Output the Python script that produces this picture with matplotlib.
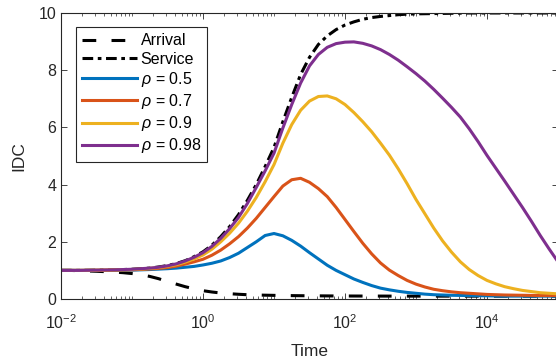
import matplotlib
matplotlib.use("Agg")
import matplotlib.pyplot as plt
import numpy as np
from matplotlib.ticker import FixedLocator, LogLocator, NullFormatter

plt.rcParams['font.family'] = ['Liberation Sans', 'DejaVu Sans']
plt.rcParams['mathtext.fontset'] = 'custom'
plt.rcParams['mathtext.rm'] = 'Liberation Sans'
plt.rcParams['mathtext.it'] = 'Liberation Sans:italic'

# log10(time), values every 1/8 decade
log_t = [-2, -1.875, -1.75, -1.625, -1.5, -1.375, -1.25, -1.125,
         -1, -0.875, -0.75, -0.625, -0.5, -0.375, -0.25, -0.125,
         0, 0.125, 0.25, 0.375, 0.5, 0.625, 0.75, 0.875,
         1, 1.125, 1.25, 1.375, 1.5, 1.625, 1.75, 1.875,
         2, 2.125, 2.25, 2.375, 2.5, 2.625, 2.75, 2.875,
         3, 3.125, 3.25, 3.375, 3.5, 3.625, 3.75, 3.875,
         4, 4.125, 4.25, 4.375, 4.5, 4.625, 4.75, 4.875,
         5]

arrival = [1.0, 1.0, 0.99, 0.98, 0.97, 0.955, 0.94, 0.92,
           0.89, 0.85, 0.79, 0.71, 0.61, 0.52, 0.43, 0.355,
           0.29, 0.245, 0.21, 0.185, 0.165, 0.15, 0.14, 0.133,
           0.127, 0.122, 0.118, 0.115, 0.112, 0.11, 0.108, 0.106,
           0.105, 0.104, 0.103, 0.102, 0.102, 0.101, 0.101, 0.1,
           0.1, 0.1, 0.1, 0.1, 0.1, 0.1, 0.1, 0.1,
           0.1, 0.1, 0.1, 0.1, 0.1, 0.1, 0.1, 0.1,
           0.1]
service = [1.0, 1.0, 1.0, 1.005, 1.01, 1.015, 1.02, 1.03,
           1.04, 1.06, 1.08, 1.12, 1.17, 1.24, 1.34, 1.48,
           1.65, 1.88, 2.18, 2.53, 2.95, 3.45, 4.0, 4.63,
           5.3, 6.2, 7.05, 7.85, 8.45, 8.9, 9.2, 9.42,
           9.58, 9.69, 9.78, 9.84, 9.88, 9.91, 9.94, 9.96,
           9.97, 9.975, 9.98, 9.985, 9.99, 9.995, 10.0, 10.0,
           10.0, 10.0, 10.0, 10.0, 10.0, 10.0, 10.0, 10.0,
           10.0]
rho_05 = [1.0, 1.0, 1.0, 1.0, 1.0, 1.0, 1.0, 1.005,
          1.01, 1.02, 1.03, 1.045, 1.06, 1.08, 1.11, 1.14,
          1.19, 1.25, 1.33, 1.45, 1.6, 1.8, 2.0, 2.22,
          2.29, 2.21, 2.05, 1.85, 1.62, 1.4, 1.18, 1.0,
          0.85, 0.7, 0.58, 0.47, 0.38, 0.32, 0.27, 0.23,
          0.2, 0.17, 0.15, 0.14, 0.13, 0.125, 0.12, 0.115,
          0.11, 0.105, 0.1, 0.1, 0.1, 0.1, 0.1, 0.1,
          0.1]
rho_07 = [1.0, 1.0, 1.0, 1.0, 1.0, 1.005, 1.01, 1.015,
          1.02, 1.035, 1.05, 1.07, 1.1, 1.15, 1.22, 1.3,
          1.39, 1.53, 1.71, 1.93, 2.18, 2.48, 2.82, 3.2,
          3.58, 3.95, 4.17, 4.22, 4.08, 3.86, 3.58, 3.2,
          2.78, 2.36, 1.95, 1.58, 1.26, 1.01, 0.82, 0.65,
          0.52, 0.42, 0.34, 0.29, 0.25, 0.22, 0.2, 0.18,
          0.16, 0.15, 0.14, 0.135, 0.13, 0.125, 0.12, 0.12,
          0.12]
rho_09 = [1.0, 1.0, 1.0, 1.005, 1.01, 1.015, 1.02, 1.025,
          1.03, 1.05, 1.07, 1.1, 1.14, 1.2, 1.29, 1.4,
          1.54, 1.74, 2.0, 2.3, 2.65, 3.07, 3.55, 4.1,
          4.7, 5.45, 6.1, 6.6, 6.92, 7.08, 7.1, 7.0,
          6.8, 6.52, 6.2, 5.85, 5.45, 5.03, 4.55, 4.03,
          3.48, 2.98, 2.48, 2.03, 1.64, 1.3, 1.03, 0.82,
          0.65, 0.53, 0.43, 0.36, 0.3, 0.26, 0.22, 0.2,
          0.18]
rho_098 = [1.0, 1.0, 1.0, 1.005, 1.01, 1.015, 1.02, 1.03,
           1.04, 1.06, 1.08, 1.11, 1.16, 1.23, 1.33, 1.46,
           1.62, 1.84, 2.12, 2.46, 2.85, 3.34, 3.9, 4.48,
           5.1, 5.98, 6.8, 7.55, 8.15, 8.55, 8.8, 8.93,
           8.98, 8.99, 8.94, 8.85, 8.72, 8.55, 8.35, 8.12,
           7.88, 7.62, 7.33, 7.02, 6.7, 6.36, 5.95, 5.5,
           5.02, 4.57, 4.12, 3.66, 3.2, 2.72, 2.22, 1.75,
           1.3]

labels = ['Arrival', 'Service', r'$\rho$ = 0.5', r'$\rho$ = 0.7', r'$\rho$ = 0.9', r'$\rho$ = 0.98']
colors = ['#0072BD', '#D95319', '#EDB120', '#7E2F8E']

t = 10.0 ** np.array(log_t)

fig = plt.figure(figsize=(5.56, 3.6), dpi=100)
ax = fig.add_axes([61/556, 1 - 299/360, 497/556, 286/360])

ax.plot(t, arrival, color='k', lw=2.2, linestyle=(0, (4.5, 5)), label=labels[0])
ax.plot(t, service, color='k', lw=2.2, linestyle=(0, (3.5, 1.5, 1.2, 1.5)), label=labels[1])
for ys, c, lab in zip([rho_05, rho_07, rho_09, rho_098], colors, labels[2:]):
    ax.plot(t, ys, color=c, lw=2.2, label=lab)

ax.set_xscale('log')
ax.set_xlim(1e-2, 1e5)
ax.set_ylim(0, 10)
ax.xaxis.set_major_locator(FixedLocator([1e-2, 1, 1e2, 1e4]))
ax.set_xticklabels([r'$10^{-2}$', r'$10^{0}$', r'$10^{2}$', r'$10^{4}$'])
ax.xaxis.set_minor_locator(LogLocator(base=10, subs=np.arange(1, 10), numticks=30))
ax.xaxis.set_minor_formatter(NullFormatter())
ax.set_yticks([0, 2, 4, 6, 8, 10])

edge = '#262626'
for s in ax.spines.values():
    s.set_color(edge)
    s.set_linewidth(0.8)
ax.tick_params(which='both', direction='in', top=True, right=True, colors=edge,
               labelsize=11.5, labelcolor=edge)
ax.tick_params(which='major', length=4, width=0.6)
ax.tick_params(which='minor', length=2.5, width=0.5)
ax.tick_params(axis='x', pad=10)

ax.set_xlabel('Time', fontsize=12.5, color=edge, labelpad=9)
ax.set_ylabel('IDC', fontsize=12.5, color=edge, labelpad=9)

leg = ax.legend(loc='upper left', bbox_to_anchor=(15/497, 1 - 14/286), borderaxespad=0,
                fontsize=11.5, handlelength=3.4, handletextpad=0.25, labelspacing=0.2,
                borderpad=0.4, fancybox=False, framealpha=1)
leg.get_frame().set_edgecolor(edge)
leg.get_frame().set_linewidth(0.8)
for txt in leg.get_texts():
    txt.set_color('k')

fig.savefig('out.png', dpi=100)
